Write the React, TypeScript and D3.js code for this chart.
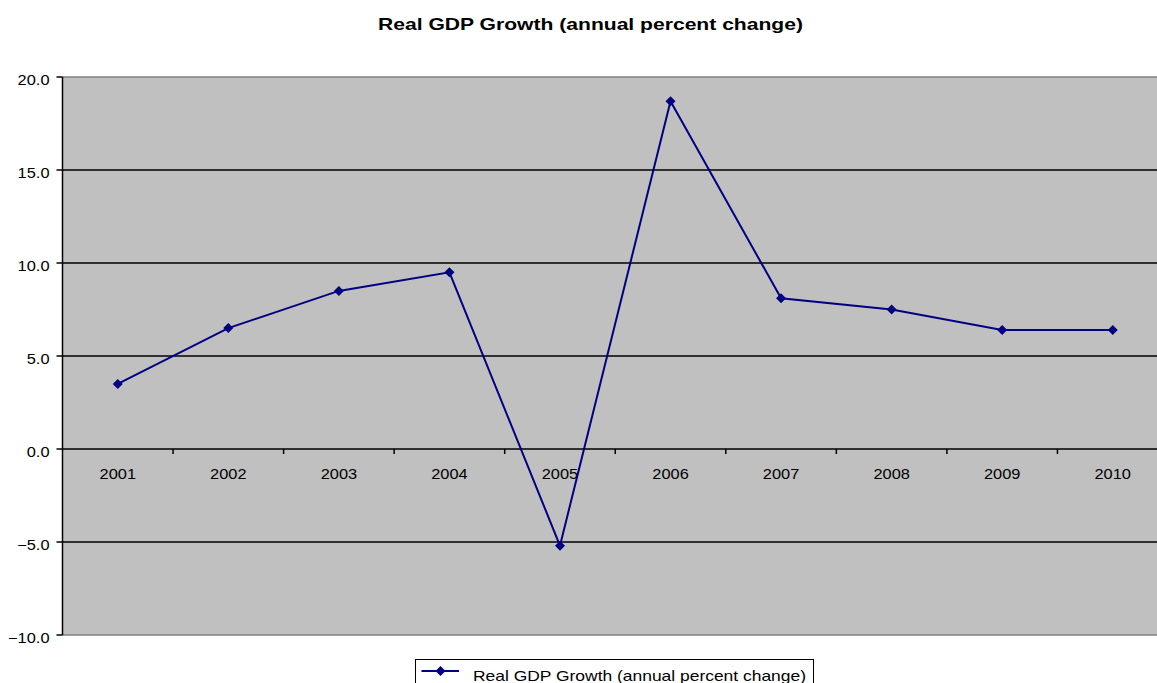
import React from "react";
import * as d3 from "d3";

const years = ["2001", "2002", "2003", "2004", "2005", "2006", "2007", "2008", "2009", "2010"];
const growth = [3.5, 6.5, 8.5, 9.5, -5.2, 18.7, 8.1, 7.5, 6.4, 6.4];
const yTicks = [-10, -5, 0, 5, 10, 15, 20];
const title = "Real GDP Growth (annual percent change)";
const seriesName = "Real GDP Growth (annual percent change)";

const W = 1157;
const H = 683;
const left = 62.5;
const right = 1168;
const top = 77;
const bottom = 635;
const SX = 1.13;

export default function App() {
  const x = d3.scaleBand<string>().domain(years).range([left, right]).padding(0);
  const y = d3.scaleLinear().domain([-10, 20]).range([bottom, top]);
  const cx = (d: string) => (x(d) as number) + x.bandwidth() / 2;
  const line = d3
    .line<number>()
    .x((_, i) => cx(years[i]))
    .y((d) => y(d));
  const diamond = d3.symbol().type(d3.symbolSquare).size(50)() as string;
  const font = "Arial, 'Liberation Sans', sans-serif";
  const y0 = y(0);

  return (
    <svg width={W} height={H} style={{ position: "absolute", left: 0, top: 0 }} fontFamily={font}>
      <rect x={0} y={0} width={W} height={H} fill="#ffffff" />
      <text x={378} y={30} fontSize={16.5} fontWeight="bold" fill="#000" textLength={425} lengthAdjust="spacingAndGlyphs">
        {title}
      </text>
      <rect x={left} y={top} width={right - left} height={bottom - top} fill="#c0c0c0" />
      <line x1={left} x2={right} y1={top} y2={top} stroke="#808080" strokeWidth={1.5} />
      <line x1={left} x2={right} y1={bottom} y2={bottom} stroke="#808080" strokeWidth={1.5} />
      {yTicks
        .filter((t) => t !== -10 && t !== 20)
        .map((t) => (
          <line key={"g" + t} x1={left} x2={right} y1={y(t)} y2={y(t)} stroke="#000" strokeWidth={1.5} />
        ))}
      <line x1={left} x2={left} y1={top} y2={bottom} stroke="#000" strokeWidth={1.5} />
      {yTicks.map((t) => (
        <g key={"t" + t}>
          <line x1={left - 6} x2={left} y1={y(t)} y2={y(t)} stroke="#000" strokeWidth={1.5} />
          <text
            transform={`translate(49.5,${y(t) + 7.5}) scale(${SX},1)`}
            textAnchor="end"
            fontSize={14.5}
            fill="#000"
          >
            {d3.format(".1f")(t)}
          </text>
        </g>
      ))}
      {years.slice(1).map((yr) => (
        <line key={"xt" + yr} x1={x(yr) as number} x2={x(yr) as number} y1={y0} y2={y0 + 5} stroke="#000" strokeWidth={1.5} />
      ))}
      {years.map((yr) => (
        <text
          key={"xl" + yr}
          transform={`translate(${cx(yr)},${478.5}) scale(${SX},1)`}
          textAnchor="middle"
          fontSize={14.5}
          fill="#000"
        >
          {yr}
        </text>
      ))}
      <path d={line(growth) as string} fill="none" stroke="#000080" strokeWidth={2} />
      {growth.map((v, i) => (
        <path key={"m" + i} d={diamond} transform={`translate(${cx(years[i])},${y(v)}) rotate(45)`} fill="#000080" />
      ))}
      <g>
        <rect x={415.5} y={659.5} width={398} height={30} fill="#fff" stroke="#000" strokeWidth={1} />
        <line x1={421.5} x2={459} y1={671} y2={671} stroke="#000080" strokeWidth={2} />
        <path d={diamond} transform="translate(440.5,671) rotate(45)" fill="#000080" />
        <text x={473} y={680.5} fontSize={15} fill="#000" textLength={333} lengthAdjust="spacingAndGlyphs">
          {seriesName}
        </text>
      </g>
    </svg>
  );
}
